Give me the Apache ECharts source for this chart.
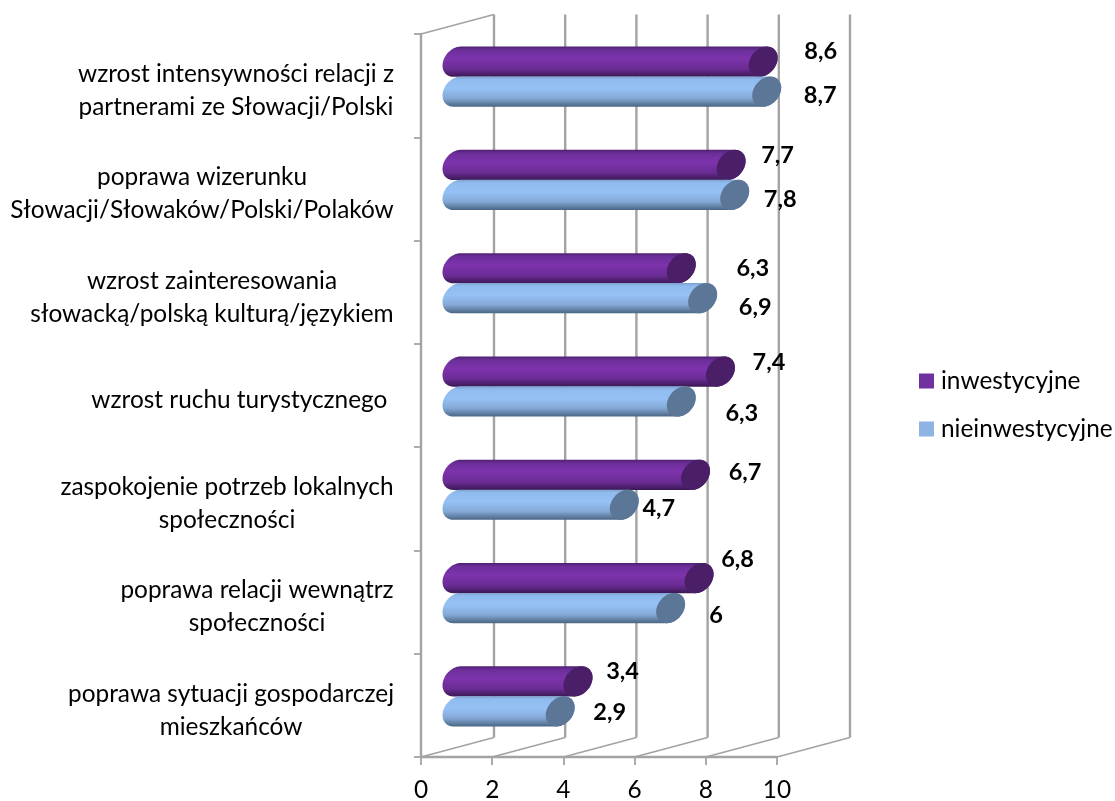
<!DOCTYPE html>
<html>
<head>
<meta charset="utf-8">
<title>chart</title>
<script src="https://cdn.jsdelivr.net/npm/echarts@6/dist/echarts.min.js"></script>
<style>
html, body { margin: 0; padding: 0; background: #fff; }
#main { width: 1115px; height: 801px; }
</style>
</head>
<body>
<div id="main"></div>
<script>
var categories = [
    'wzrost intensywności relacji z\npartnerami ze Słowacji/Polski',
    'poprawa wizerunku\nSłowacji/Słowaków/Polski/Polaków',
    'wzrost zainteresowania\nsłowacką/polską kulturą/językiem',
    'wzrost ruchu turystycznego ',
    'zaspokojenie potrzeb lokalnych\nspołeczności',
    'poprawa relacji wewnątrz\nspołeczności',
    'poprawa sytuacji gospodarczej\nmieszkańców'
];
var inwestycyjne = [8.6, 7.7, 6.3, 7.4, 6.7, 6.8, 3.4];
var nieinwestycyjne = [8.7, 7.8, 6.9, 6.3, 4.7, 6, 2.9];
var xTicks = [0, 2, 4, 6, 8, 10];

// hand placed data labels in the original, so each one gets a nudge from its bar end
var inwestShift = [[43, -10], [32, -10], [57, 0], [34, -9], [35, -2], [24, -19], [30, -10]];
var nieinwestShift = [[39, 4], [31, 5], [38, 9], [46, 12], [20, 4], [31, 7], [35, 1]];

var FONT = 'Lato';
var FONT_SIZE = 24.4;
var WALL = '#a3a3a3';
var DEPTH_X = 73, DEPTH_Y = 19.5;
var BAR_SHIFT_X = 36, BAR_SHIFT_Y = -9;
var CAP_X = 14.5, CAP_TILT = 3.9, CAP_Y = 14.6;

// widest line of each label, so multi line labels centre inside their own block
var ctx = document.createElement('canvas').getContext('2d');
ctx.font = FONT_SIZE + 'px ' + FONT;
var labelRich = {};
categories.forEach(function (c, i) {
    var w = 0;
    c.split('\n').forEach(function (l) { w = Math.max(w, ctx.measureText(l).width); });
    labelRich['c' + i] = { width: Math.ceil(w), align: 'center', fontFamily: FONT, fontSize: FONT_SIZE, lineHeight: 33, color: '#000' };
});

function capPoint(cx, cy, t) {
    return [cx + Math.cos(t) * CAP_X, cy - Math.cos(t) * CAP_TILT + Math.sin(t) * CAP_Y];
}

function capPoints(cx, cy) {
    var pts = [];
    for (var i = 0; i < 48; i++) {
        pts.push(capPoint(cx, cy, i / 48 * Math.PI * 2));
    }
    return pts;
}

function bodyPoints(x0, x1, cy) {
    var pts = [], i;
    var tTop = Math.atan2(-CAP_Y, CAP_TILT);
    // right cap, top round to bottom on the outer side
    for (i = 0; i <= 24; i++) {
        pts.push(capPoint(x1, cy, tTop + i / 24 * Math.PI));
    }
    // left cap, bottom round to top on the outer side
    for (i = 0; i <= 24; i++) {
        pts.push(capPoint(x0, cy, tTop + Math.PI + i / 24 * Math.PI));
    }
    return pts;
}

function cylinderRender(colors, capColor, side, shifts) {
    return function (params, api) {
        var v = api.value(0), idx = api.value(1);
        var zero = api.coord([0, idx]);
        var end = api.coord([v, idx]);
        var band = api.size([0, 1])[1];
        var cy = zero[1] + BAR_SHIFT_Y + side * band * 0.145;
        var x0 = zero[0] + BAR_SHIFT_X, x1 = end[0] + BAR_SHIFT_X;
        var shift = shifts[idx];
        return {
            type: 'group',
            children: [{
                type: 'polygon',
                shape: { points: bodyPoints(x0, x1, cy) },
                style: {
                    fill: new echarts.graphic.LinearGradient(0, 0, 0, 1, colors)
                }
            }, {
                type: 'polygon',
                shape: { points: capPoints(x1, cy) },
                style: { fill: capColor }
            }, {
                type: 'text',
                z2: 10,
                style: {
                    x: x1 + CAP_X + shift[0],
                    y: cy + shift[1],
                    text: String(v).replace('.', ','),
                    fill: '#000',
                    font: 'bold 23.5px ' + FONT,
                    align: 'center',
                    verticalAlign: 'middle'
                }
            }]
        };
    };
}

function wallRender(params, api) {
    var cs = params.coordSys;
    var x = api.coord([api.value(0), 0])[0];
    var top = cs.y, bottom = cs.y + cs.height;
    var children = [{
        type: 'line',
        shape: { x1: x + DEPTH_X, y1: top - DEPTH_Y, x2: x + DEPTH_X, y2: bottom - DEPTH_Y },
        style: { stroke: WALL, lineWidth: 2.4 }
    }, {
        type: 'line',
        shape: { x1: x, y1: bottom, x2: x + DEPTH_X, y2: bottom - DEPTH_Y },
        style: { stroke: WALL, lineWidth: 1.8 }
    }];
    if (params.dataIndex === 0) {
        children.push({
            type: 'line',
            shape: { x1: x, y1: top, x2: x + DEPTH_X, y2: top - DEPTH_Y },
            style: { stroke: WALL, lineWidth: 1.8 }
        });
    }
    return { type: 'group', children: children };
}

var chart = echarts.init(document.getElementById('main'));
chart.setOption({
    animation: false,
    textStyle: { fontFamily: FONT },
    grid: { left: 421, top: 34, width: 356, height: 723, outerBoundsMode: 'none' },
    legend: {
        orient: 'vertical',
        left: 914,
        top: 364,
        itemWidth: 15,
        itemHeight: 15,
        itemGap: 24,
        icon: 'rect',
        selectedMode: false,
        textStyle: { fontFamily: FONT, fontSize: FONT_SIZE, color: '#000', padding: [0, 0, 0, 2] },
        data: ['inwestycyjne', 'nieinwestycyjne']
    },
    xAxis: {
        type: 'value',
        min: 0,
        max: 10,
        interval: 2,
        splitLine: { show: false },
        axisLine: { show: true, lineStyle: { color: WALL, width: 2.4 } },
        axisTick: { show: true, length: 8, lineStyle: { color: WALL, width: 1.8 } },
        axisLabel: { fontFamily: FONT, fontSize: FONT_SIZE, color: '#000', margin: 21 }
    },
    yAxis: {
        type: 'category',
        inverse: true,
        data: categories,
        splitLine: { show: false },
        axisLine: { show: true, lineStyle: { color: WALL, width: 2.4 } },
        axisTick: { show: true, length: 7, lineStyle: { color: WALL, width: 1.8 } },
        axisLabel: {
            margin: 27,
            padding: [10, 0, 0, 0],
            rich: labelRich,
            formatter: function (value, index) {
                return value.split('\n').map(function (l) {
                    return '{c' + index + '|' + l + '}';
                }).join('\n');
            }
        }
    },
    series: [{
        type: 'custom',
        name: 'walls',
        silent: true,
        clip: false,
        z: 1,
        renderItem: wallRender,
        encode: { x: 0 },
        data: xTicks.map(function (t) { return [t, 0]; })
    }, {
        type: 'custom',
        name: 'inwestycyjne',
        clip: false,
        z: 2,
        itemStyle: { color: '#7030a0' },
        renderItem: cylinderRender([
            { offset: 0, color: '#4e2170' },
            { offset: 0.12, color: '#6c2f9a' },
            { offset: 0.4, color: '#7d33ad' },
            { offset: 0.75, color: '#6a2c93' },
            { offset: 1, color: '#3b1855' }
        ], '#4a1f68', -1, inwestShift),
        encode: { x: 0, y: 1 },
        data: inwestycyjne.map(function (v, i) { return [v, i]; })
    }, {
        type: 'custom',
        name: 'nieinwestycyjne',
        clip: false,
        z: 3,
        itemStyle: { color: '#8eb4e3' },
        renderItem: cylinderRender([
            { offset: 0, color: '#7ea3cf' },
            { offset: 0.1, color: '#8fbbee' },
            { offset: 0.4, color: '#96c1f6' },
            { offset: 0.72, color: '#84a9d6' },
            { offset: 1, color: '#4a6583' }
        ], '#5b7696', 1, nieinwestShift),
        encode: { x: 0, y: 1 },
        data: nieinwestycyjne.map(function (v, i) { return [v, i]; })
    }]
});
</script>
</body>
</html>
